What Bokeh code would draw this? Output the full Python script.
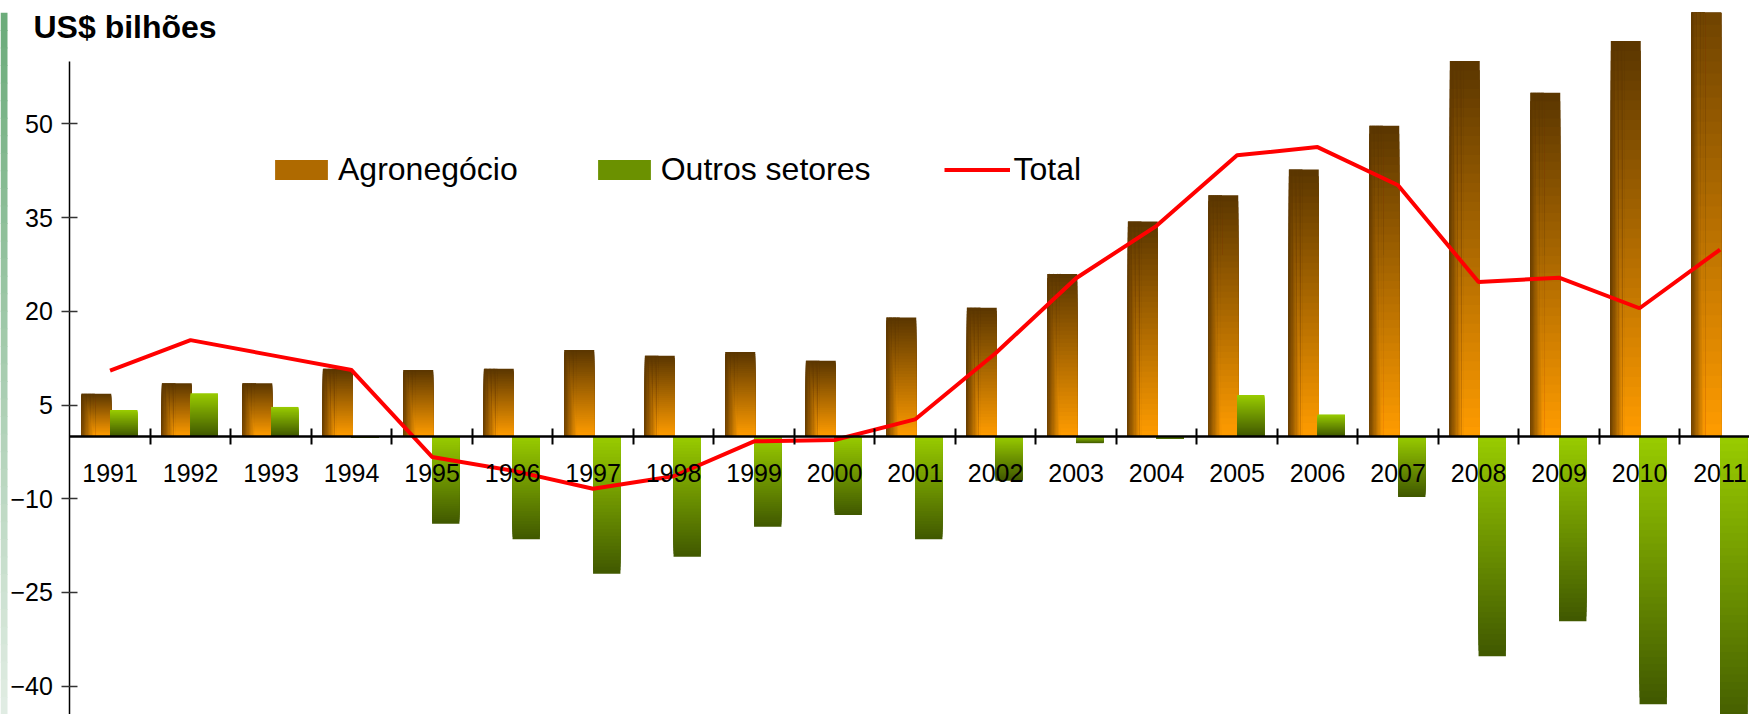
from bokeh.plotting import figure
from bokeh.models import (Range1d, LinearAxis, FixedTicker, ColumnDataSource, Legend,
                          LegendItem, Label)
from bokeh.embed import file_html
from bokeh.resources import INLINE

# ---------------- data ----------------
years = [str(y) for y in range(1991, 2012)]
agro = [6.8, 8.5, 8.5, 10.8, 10.6, 10.8, 13.8, 12.9, 13.5, 12.1, 19.0,
        20.6, 26.0, 34.4, 38.6, 42.7, 49.7, 60.1, 55.0, 63.3, 77.5]
outros = [4.2, 6.9, 4.7, -0.2, -14.0, -16.5, -22.0, -19.3, -14.5, -12.6, -16.5,
          -7.1, -1.1, -0.4, 6.6, 3.5, -9.7, -35.2, -29.6, -42.9, -47.7]
total = [10.5, 15.4, 13.0, 10.6, -3.3, -5.5, -8.4, -6.4, -0.8, -0.6, 2.7,
         13.3, 25.3, 33.7, 45.0, 46.3, 40.2, 24.7, 25.4, 20.5, 29.9]
y_ticks = [-40, -25, -10, 5, 20, 35, 50]
series_names = ["Agronegócio", "Outros setores", "Total"]

FONT = "Liberation Sans"
AGRO_DARK = (0x5a, 0x36, 0x00)
AGRO_LIGHT = (0xff, 0x9c, 0x00)
SHADOW = (0x5e, 0x38, 0x00)
GREEN_LIGHT = (0x99, 0xcc, 0x00)
GREEN_DARK = (0x40, 0x58, 0x00)
BAND_TOP = (0x6a, 0xab, 0x79)
BAND_BOTTOM = (0xe2, 0xed, 0xe4)

W, H = 1749, 714
PX_PER_CAT = 80.5
AXIS_PX = 69.3
FRAME_TOP = 12
Y_TOP, Y_BOTTOM = 67.85, -44.54


def lerp(c1, c2, t):
    return "#%02x%02x%02x" % tuple(int(round(a + (b - a) * t)) for a, b in zip(c1, c2))


def rgb(c):
    return [int(c[j:j + 2], 16) for j in (1, 3, 5)]


idx = list(range(len(years)))
N = 40   # vertical gradient steps
M = 10   # shadow columns on the left side of the agro bars

AGRO_OFF, AGRO_W = -0.17, 0.37
GREEN_OFF, GREEN_W = 0.17, 0.34
SHADOW_SPAN = 0.45
COL_W = AGRO_W * SHADOW_SPAN / M

agro_main = {"x": [], "top": [], "bottom": [], "color": []}
agro_shadow = {"x": [], "w": [], "top": [], "bottom": [], "color": []}
green_main = {"x": [], "top": [], "bottom": [], "color": []}

# nested gradient layers (outermost first) built from the data values
for i, v in zip(idx, agro):
    for k in range(N - 1, -1, -1):
        end = v * (k + 1) / N
        t = (k + 0.5) / N  # 0 near the zero line, 1 at the bar end
        agro_main["x"].append(i + AGRO_OFF)
        agro_main["top"].append(max(0, end))
        agro_main["bottom"].append(min(0, end))
        agro_main["color"].append(lerp(AGRO_LIGHT, AGRO_DARK, t))
    for j in range(M):
        f = (j + 0.5) / M * SHADOW_SPAN
        for k in range(N - 1, -1, -1):
            end = v * (k + 1) / N
            t = (k + 0.5) / N
            wfrac = 0.10 + 0.35 * (1 - t)
            amt = max(0.0, min(1.0, (wfrac - f) / wfrac)) * 0.9
            base = rgb(lerp(AGRO_LIGHT, AGRO_DARK, t))
            agro_shadow["x"].append(i + AGRO_OFF - AGRO_W / 2 + (j + 0.5) * COL_W)
            agro_shadow["w"].append(COL_W * 1.2)
            agro_shadow["top"].append(max(0, end))
            agro_shadow["bottom"].append(min(0, end))
            agro_shadow["color"].append(lerp(base, SHADOW, amt))

for i, v in zip(idx, outros):
    for k in range(N - 1, -1, -1):
        end = v * (k + 1) / N
        t = (k + 0.5) / N
        c = lerp(GREEN_DARK, GREEN_LIGHT, t) if v >= 0 else lerp(GREEN_LIGHT, GREEN_DARK, t)
        green_main["x"].append(i + GREEN_OFF)
        green_main["top"].append(max(0, end))
        green_main["bottom"].append(min(0, end))
        green_main["color"].append(c)

x_start = -0.5 - AXIS_PX / PX_PER_CAT
x_end = x_start + W / PX_PER_CAT

p = figure(width=W, height=H,
           x_range=Range1d(x_start, x_end), y_range=Range1d(Y_BOTTOM, Y_TOP),
           output_backend="svg", toolbar_location=None,
           x_axis_location=None, y_axis_location=None,
           min_border_left=0, min_border_right=0, min_border_top=FRAME_TOP, min_border_bottom=0,
           outline_line_color=None, background_fill_color="white", border_fill_color="white")
p.grid.visible = False

# slide background band at the very left
NB = 40
band = {"left": [], "right": [], "top": [], "bottom": [], "color": []}
for k in range(NB):
    band["left"].append(x_start)
    band["right"].append(x_start + 7 / PX_PER_CAT)
    band["top"].append(Y_TOP - (Y_TOP - Y_BOTTOM) * k / NB)
    band["bottom"].append(Y_TOP - (Y_TOP - Y_BOTTOM) * (k + 1.05) / NB)
    band["color"].append(lerp(BAND_TOP, BAND_BOTTOM, (k + 0.5) / NB))
p.quad(left="left", right="right", top="top", bottom="bottom", source=ColumnDataSource(band),
       fill_color="color", line_color=None)

r_agro = p.vbar(x="x", top="top", bottom="bottom", width=AGRO_W, source=ColumnDataSource(agro_main),
                fill_color="color", line_color=None)
p.vbar(x="x", top="top", bottom="bottom", width="w", source=ColumnDataSource(agro_shadow),
       fill_color="color", line_color=None)
r_green = p.vbar(x="x", top="top", bottom="bottom", width=GREEN_W, source=ColumnDataSource(green_main),
                 fill_color="color", line_color=None)

r_total = p.line(x=idx, y=total, line_color="#ff0000", line_width=4)

# y axis (fixed at the left category boundary)
yaxis = LinearAxis(fixed_location=-0.5, ticker=FixedTicker(ticks=y_ticks), bounds=(-60, 60),
                   axis_line_color="black", axis_line_width=1.5,
                   major_tick_line_color="#333333", major_tick_line_width=1.5,
                   major_tick_in=8, major_tick_out=8, minor_tick_line_color=None,
                   major_label_text_font=FONT, major_label_text_font_size="25px",
                   major_label_text_color="black", major_label_standoff=9)
p.add_layout(yaxis, "left")

# x axis line at zero with ticks at the category boundaries
xaxis_ticks = LinearAxis(fixed_location=0, ticker=FixedTicker(ticks=[i + 0.5 for i in idx]),
                         bounds=(-0.5, 21),
                         axis_line_color="black", axis_line_width=2.5,
                         major_tick_line_color="black", major_tick_line_width=2,
                         major_tick_in=8, major_tick_out=8, minor_tick_line_color=None,
                         major_label_text_color=None)
p.add_layout(xaxis_ticks, "below")

# year labels at the category centres
xaxis_labels = LinearAxis(fixed_location=0, ticker=FixedTicker(ticks=idx),
                          major_label_overrides={i: y for i, y in zip(idx, years)},
                          axis_line_color=None, major_tick_line_color=None,
                          major_tick_in=0, major_tick_out=0, minor_tick_line_color=None,
                          major_label_text_font=FONT, major_label_text_font_size="25px",
                          major_label_text_color="black", major_label_standoff=28)
p.add_layout(xaxis_labels, "below")

title = Label(x=33, y=687.4, x_units="screen", y_units="screen", text="US$ bilhões",
              text_font=FONT, text_font_size="32px", text_font_style="bold",
              text_color="black", text_baseline="alphabetic")
p.add_layout(title)

legend = Legend(items=[LegendItem(label=series_names[0], renderers=[r_agro], index=N // 2),
                       LegendItem(label=series_names[1], renderers=[r_green], index=N // 2),
                       LegendItem(label=series_names[2], renderers=[r_total])],
                location=(268, 526), orientation="horizontal",
                glyph_width=66, glyph_height=25, label_standoff=4, spacing=73,
                padding=0, margin=0, border_line_color=None, background_fill_alpha=0,
                label_text_font=FONT, label_text_font_size="32px", label_text_color="black")
p.add_layout(legend)

open("out.html", "w").write(file_html(p, INLINE))
